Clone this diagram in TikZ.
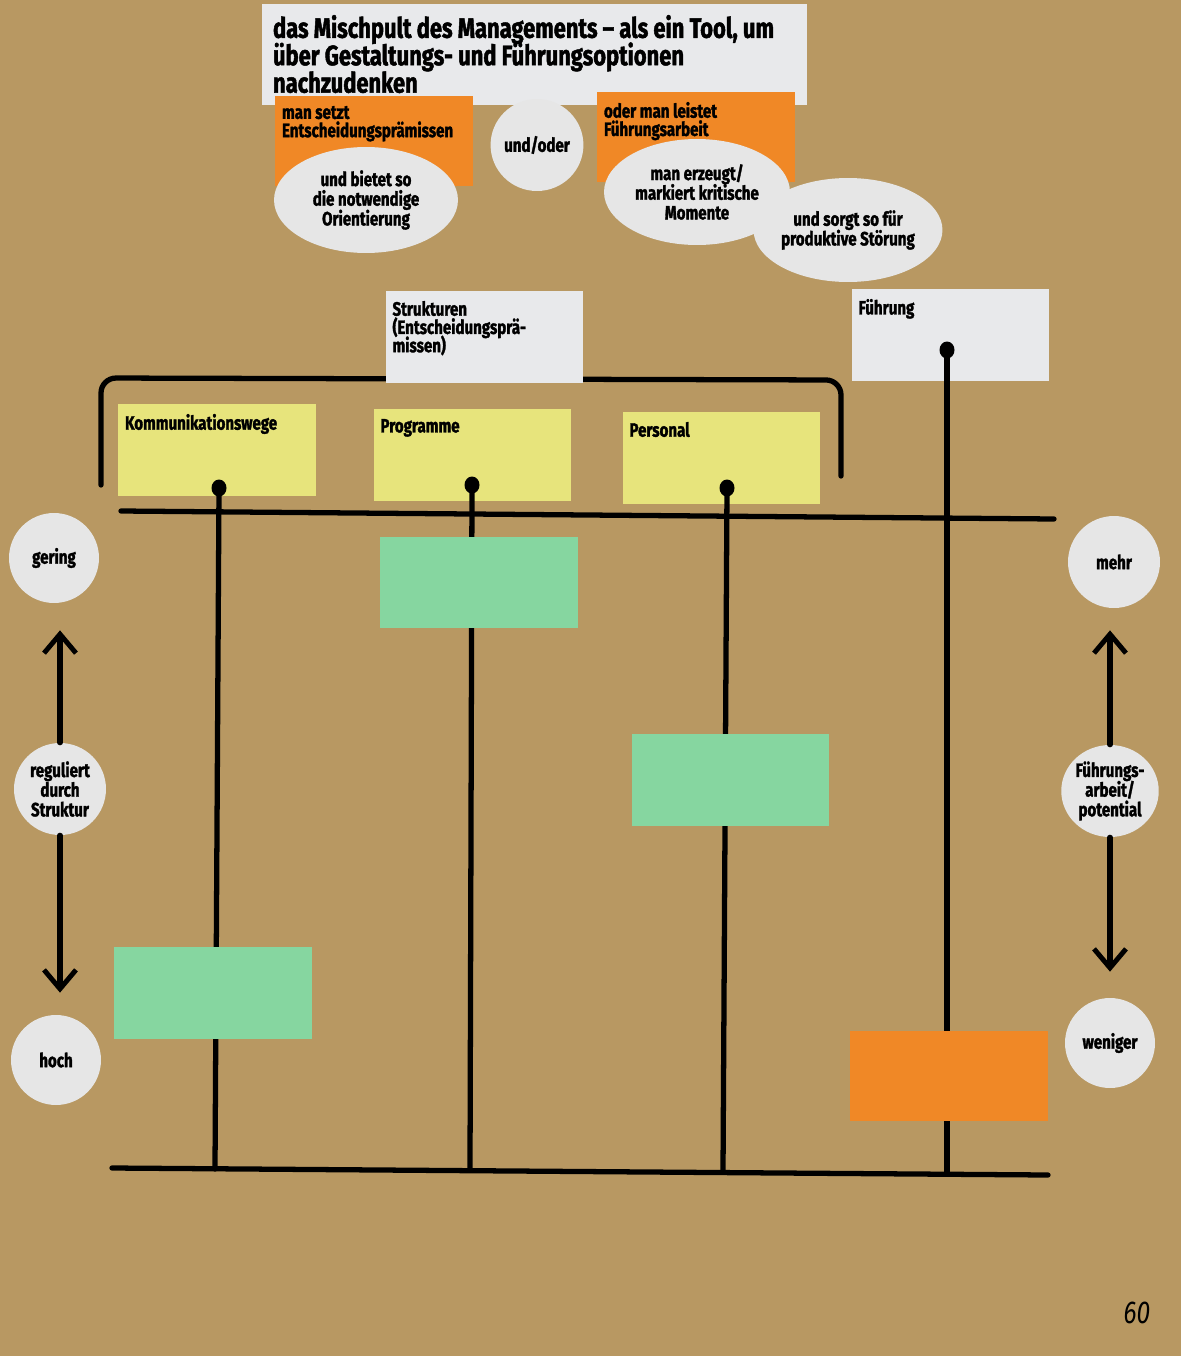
\documentclass[tikz,border=0pt]{standalone}
\usepackage{fontspec}
\setmainfont{Fira Sans}[FakeStretch=0.78, BoldFeatures={FakeBold=1.6}]
\usetikzlibrary{
  arrows.meta,
  positioning,
  shapes.geometric
}
\definecolor{board}{RGB}{184,152,98}
\definecolor{paper}{RGB}{232,233,235}
\definecolor{disc}{RGB}{230,230,230}
\definecolor{sun}{RGB}{231,228,124}
\definecolor{mint}{RGB}{134,214,160}
\definecolor{tang}{RGB}{240,136,38}
\newcommand{\tightlines}{\lineskiplimit=-20pt\lineskip=0pt}
\tikzset{>={Straight Barb[length=3.8mm,width=6.4mm,line width=2.8pt]}}
\tikzset{
  card/.style={fill=#1, inner sep=0pt, minimum width=3.96cm, minimum height=1.84cm},
  cardtext/.style={label={[anchor=north west, inner sep=0pt, xshift=0.14cm, yshift=-0.2cm,
      align=left, font=\bfseries\fontsize{11}{10.4}\selectfont\tightlines]north west:#1}},
  disc/.style={ellipse, fill=disc, inner sep=0pt, align=center,
      font=\bfseries\fontsize{11}{11.2}\selectfont\tightlines},
  marker/.style={line width=3pt, line cap=round},
  pin/.style={fill=black}
}
\begin{document}
\begin{tikzpicture}[x=0.02cm, y=-0.02cm]
  \fill[board] (0,0) rectangle (1181,1356);
  \useasboundingbox (0,0) rectangle (1181,1356);
  % heading
  \node[card=paper, minimum width=10.9cm, minimum height=2.02cm,
    label={[anchor=north west, inner sep=0pt, xshift=0.22cm, yshift=-0.22cm, align=left,
      font=\bfseries\fontsize{16}{15.6}\selectfont\tightlines]north west:das Mischpult des Managements -- als ein Tool, um\\
      über Gestaltungs- und Führungsoptionen\\nachzudenken}] (title) at (534.5,54.5) {};
  \node[card=tang, minimum height=1.8cm, cardtext={man setzt\\Entscheidungsprämissen}] (premise) at (374,141) {};
  \node[card=tang, minimum height=1.8cm, cardtext={oder man leistet\\Führungsarbeit}] (leadwork) at (696,137) {};
  \node[disc, minimum width=1.84cm, minimum height=1.84cm] (andor) at (537,145) {und/oder};
  \node[disc, minimum width=3.68cm, minimum height=2.12cm] (orient) at (366,200) {und bietet so\\die notwendige\\Orientierung};
  \node[disc, minimum width=3.72cm, minimum height=2.12cm] (moments) at (697,192) {man erzeugt/\\markiert kritische\\Momente};
  \node[disc, minimum width=3.68cm, minimum height=2.08cm] (disturb) at (848,230) {und sorgt so für\\produktive Störung};
  % bracket round the structures
  \draw[marker, rounded corners=0.3cm] (101,485) -- (101,378) -- (841,380) -- (841,476);
  \node[card=paper, cardtext={Strukturen\\(Entscheidungsprä-\\missen)}] (structs) at (484.5,337) {};
  \node[card=paper, cardtext={Führung}] (lead) at (950.5,335) {};
  \node[card=sun, cardtext={Kommunikationswege}] (comm) at (217,450) {};
  \node[card=sun, cardtext={Programme}] (prog) at (472.5,455) {};
  \node[card=sun, cardtext={Personal}] (staff) at (721.5,458) {};
  % faders
  \coordinate (commDot) at (219,488);
  \coordinate (progDot) at (472,485);
  \coordinate (staffDot) at (727,488);
  \coordinate (leadDot) at (947,350);
  \coordinate (commFoot) at (215,1169);
  \coordinate (progFoot) at (470,1170);
  \coordinate (staffFoot) at (723,1172);
  \coordinate (leadFoot) at (947,1174);
  \foreach \f in {comm,prog,staff,lead}{
    \draw[marker] (\f Dot) -- (\f Foot);
    \fill[pin] (\f Dot) ellipse [x radius=7.5, y radius=8.5];
  }
  \coordinate (topL) at (121,511);
  \coordinate (topR) at (1054,519);
  \coordinate (botL) at (112,1168);
  \coordinate (botR) at (1048,1175);
  \draw[marker] (topL) -- (topR);
  \draw[marker] (botL) -- (botR);
  % settings
  \node[card=mint, minimum height=1.82cm] (progSet) at (479,582.5) {};
  \node[card=mint] (staffSet) at (730.5,780) {};
  \node[card=mint] (commSet) at (213,993) {};
  \node[card=tang, minimum height=1.8cm] (leadSet) at (949,1076) {};
  % scales
  \node[disc, minimum width=1.8cm, minimum height=1.8cm] (low) at (54,558) {gering};
  \node[disc, minimum width=1.84cm, minimum height=1.84cm] (regS) at (60,789) {reguliert\\durch\\Struktur};
  \node[disc, minimum width=1.8cm, minimum height=1.8cm] (high) at (56,1060) {hoch};
  \node[disc, minimum width=1.84cm, minimum height=1.84cm] (more) at (1114,562) {mehr};
  \node[disc, minimum width=1.84cm, minimum height=1.84cm] (leadP) at (1110,791) {Führungs-\\arbeit/\\potential};
  \node[disc, minimum width=1.8cm, minimum height=1.8cm] (less) at (1110,1043) {weniger};
  \draw[marker, ->, shorten >=0.54cm] (regS.north) -- (regS.north |- low.south);
  \draw[marker, ->, shorten >=0.44cm] (regS.south) -- (regS.south |- high.north);
  \draw[marker, ->, shorten >=0.44cm] (leadP.north) -- (leadP.north |- more.south);
  \draw[marker, ->, shorten >=0.52cm] (leadP.south) -- (leadP.south |- less.north);
  \node[font=\itshape\fontsize{18}{18}\selectfont] (page) at (1137,1313) {60};
\end{tikzpicture}
\end{document}
